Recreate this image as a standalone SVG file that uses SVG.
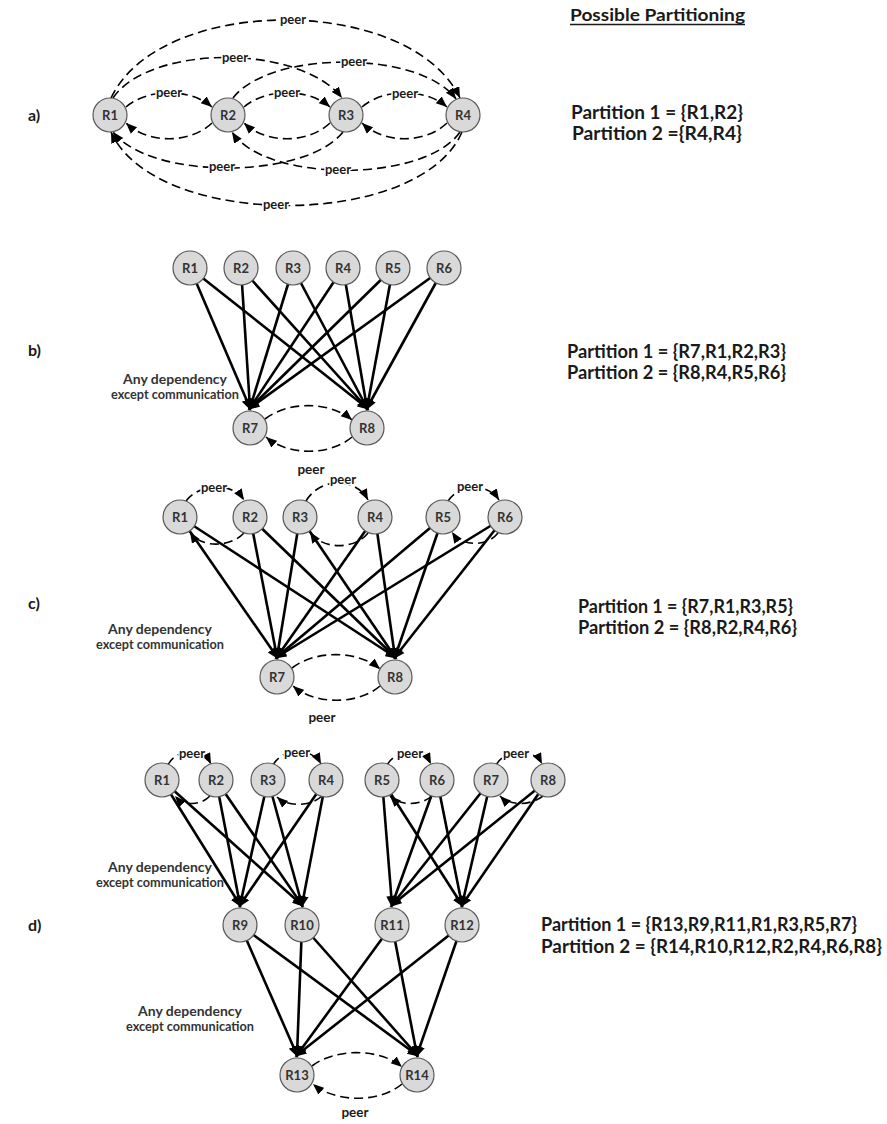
<svg xmlns="http://www.w3.org/2000/svg" width="887" height="1124" viewBox="0 0 887 1124">
<style>
text{font-family:Lato,"Liberation Sans",sans-serif;font-weight:bold;fill:#1a1a1a}
.nd circle{fill:#d9d9d9;stroke:#595959;stroke-width:1.2}
.nd text{font-size:13px;fill:#333;text-anchor:middle}
.sol{stroke:#000;stroke-width:2.6;fill:none;marker-end:url(#ah)}
.dsh{stroke:#000;stroke-width:1.6;fill:none;stroke-dasharray:9 5;marker-end:url(#ad)}
.pl{font-size:13px;text-anchor:middle;stroke:#fff;stroke-width:3;paint-order:stroke;stroke-linejoin:round}
.lb{font-size:16px}
.pt{font-size:19px}
.dep{font-size:13.5px;text-anchor:middle;fill:#333}
.pb{font-size:13.5px;text-anchor:middle}
</style>
<defs>
<marker id="ah" markerUnits="userSpaceOnUse" markerWidth="13" markerHeight="11" refX="9" refY="5" orient="auto"><path d="M0,0 L12,5 L0,10 z" fill="#000"/></marker>
<marker id="ad" markerUnits="userSpaceOnUse" markerWidth="12" markerHeight="10" refX="11" refY="4.5" orient="auto"><path d="M0,0 L11,4.5 L0,9 z" fill="#000"/></marker>
</defs>
<rect width="887" height="1124" fill="#fff"/>

<g id="headings">
<text x="570" y="21" font-size="17" textLength="175" lengthAdjust="spacingAndGlyphs">Possible Partitioning</text>
<line x1="570" y1="24.5" x2="745" y2="24.5" stroke="#1a1a1a" stroke-width="1.3"/>
<text class="lb" x="28" y="121">a)</text>
<text class="lb" x="28" y="356">b)</text>
<text class="lb" x="28" y="609">c)</text>
<text class="lb" x="28" y="931">d)</text>
<text class="pt" x="571" y="119" textLength="172" lengthAdjust="spacingAndGlyphs">Partition 1 = {R1,R2}</text>
<text class="pt" x="572" y="140" textLength="170" lengthAdjust="spacingAndGlyphs">Partition 2 ={R4,R4}</text>
<text class="pt" x="567" y="358" textLength="219" lengthAdjust="spacingAndGlyphs">Partition 1 = {R7,R1,R2,R3}</text>
<text class="pt" x="567" y="379" textLength="219" lengthAdjust="spacingAndGlyphs">Partition 2 = {R8,R4,R5,R6}</text>
<text class="pt" x="578" y="613" textLength="215" lengthAdjust="spacingAndGlyphs">Partition 1 = {R7,R1,R3,R5}</text>
<text class="pt" x="578" y="634" textLength="219" lengthAdjust="spacingAndGlyphs">Partition 2 = {R8,R2,R4,R6}</text>
<text class="pt" x="541" y="931" textLength="316" lengthAdjust="spacingAndGlyphs">Partition 1 = {R13,R9,R11,R1,R3,R5,R7}</text>
<text class="pt" x="541" y="953" textLength="341" lengthAdjust="spacingAndGlyphs">Partition 2 = {R14,R10,R12,R2,R4,R6,R8}</text>
<text class="dep" x="175" y="384" textLength="104" lengthAdjust="spacingAndGlyphs">Any dependency</text>
<text class="dep" x="175" y="399" textLength="128" lengthAdjust="spacingAndGlyphs">except communication</text>
<text class="dep" x="160" y="634" textLength="104" lengthAdjust="spacingAndGlyphs">Any dependency</text>
<text class="dep" x="160" y="649" textLength="128" lengthAdjust="spacingAndGlyphs">except communication</text>
<text class="dep" x="160" y="872" textLength="104" lengthAdjust="spacingAndGlyphs">Any dependency</text>
<text class="dep" x="160" y="887" textLength="128" lengthAdjust="spacingAndGlyphs">except communication</text>
<text class="dep" x="190" y="1016" textLength="104" lengthAdjust="spacingAndGlyphs">Any dependency</text>
<text class="dep" x="190" y="1031" textLength="128" lengthAdjust="spacingAndGlyphs">except communication</text>
<text class="pb" x="311" y="474">peer</text>
<text class="pb" x="322" y="722">peer</text>
<text class="pb" x="355" y="1117">peer</text>
</g>

<g id="connectors">
<!-- a -->
<path class="dsh" d="M126,107 C148,88 190,88 212,107"/>
<path class="dsh" d="M244,107 C266,88 308,88 330,107"/>
<path class="dsh" d="M362,107 C384,88 425,88 447,107"/>
<path class="dsh" d="M212,123 C190,144 148,144 126,123"/>
<path class="dsh" d="M330,123 C308,144 266,144 244,123"/>
<path class="dsh" d="M447,123 C425,144 384,144 362,123"/>
<path class="dsh" d="M113,98 C150,44 300,44 342,98"/>
<path class="dsh" d="M233,98 C270,50 420,50 456,99"/>
<path class="dsh" d="M111,98 C160,-6 410,-6 460,98"/>
<path class="dsh" d="M343,132 C305,180 150,180 113,132"/>
<path class="dsh" d="M460,132 C425,183 265,183 232,132"/>
<path class="dsh" d="M462,132 C420,230 155,230 111,132"/>
<!-- b -->
<path class="sol" d="M190,268 L250,408"/><path class="sol" d="M190,268 L367,408"/>
<path class="sol" d="M241,268 L250,408"/><path class="sol" d="M241,268 L367,408"/>
<path class="sol" d="M293,268 L250,408"/><path class="sol" d="M293,268 L367,408"/>
<path class="sol" d="M343,268 L250,408"/><path class="sol" d="M343,268 L367,408"/>
<path class="sol" d="M393,268 L250,408"/><path class="sol" d="M393,268 L367,408"/>
<path class="sol" d="M444,268 L250,408"/><path class="sol" d="M444,268 L367,408"/>
<path class="dsh" d="M265,419 C288,401 330,401 352,420"/>
<path class="dsh" d="M352,437 C330,456 288,456 266,437"/>
<!-- c -->
<path class="sol" d="M180,517 L277,657"/><path class="sol" d="M180,517 L395,657"/>
<path class="sol" d="M250,517 L277,657"/><path class="sol" d="M250,517 L395,657"/>
<path class="sol" d="M300,517 L277,657"/><path class="sol" d="M300,517 L395,657"/>
<path class="sol" d="M375,517 L277,657"/><path class="sol" d="M375,517 L395,657"/>
<path class="sol" d="M443,517 L277,657"/><path class="sol" d="M443,517 L395,657"/>
<path class="sol" d="M505,517 L277,657"/><path class="sol" d="M505,517 L395,657"/>
<path class="dsh" d="M186,501 C200,483 232,482 244,500"/>
<path class="dsh" d="M244,533 C230,548 200,548 190,532"/>
<path class="dsh" d="M306,501 C320,477 356,477 368,500"/>
<path class="dsh" d="M368,533 C355,550 322,550 310,532"/>
<path class="dsh" d="M448,501 C460,483 488,483 499,500"/>
<path class="dsh" d="M498,533 C487,547 462,547 452,532"/>
<path class="dsh" d="M292,668 C315,650 358,650 380,669"/>
<path class="dsh" d="M380,686 C358,705 315,705 293,686"/>
<!-- d -->
<path class="sol" d="M162,780 L240,905"/><path class="sol" d="M162,780 L302,905"/>
<path class="sol" d="M216,780 L240,905"/><path class="sol" d="M216,780 L302,905"/>
<path class="sol" d="M268,780 L240,905"/><path class="sol" d="M268,780 L302,905"/>
<path class="sol" d="M326,780 L240,905"/><path class="sol" d="M326,780 L302,905"/>
<path class="sol" d="M382,780 L392,905"/><path class="sol" d="M382,780 L462,905"/>
<path class="sol" d="M437,780 L392,905"/><path class="sol" d="M437,780 L462,905"/>
<path class="sol" d="M491,780 L392,905"/><path class="sol" d="M491,780 L462,905"/>
<path class="sol" d="M548,780 L392,905"/><path class="sol" d="M548,780 L462,905"/>
<path class="sol" d="M240,925 L297,1055"/><path class="sol" d="M240,925 L417,1055"/>
<path class="sol" d="M302,925 L297,1055"/><path class="sol" d="M302,925 L417,1055"/>
<path class="sol" d="M392,925 L297,1055"/><path class="sol" d="M392,925 L417,1055"/>
<path class="sol" d="M462,925 L297,1055"/><path class="sol" d="M462,925 L417,1055"/>
<path class="dsh" d="M168,765 C176,748 203,748 211,764"/>
<path class="dsh" d="M210,796 C200,806 184,806 175,796"/>
<path class="dsh" d="M273,765 C283,747 312,747 321,764"/>
<path class="dsh" d="M322,796 C310,807 288,807 277,797"/>
<path class="dsh" d="M387,765 C397,748 423,748 431,764"/>
<path class="dsh" d="M432,796 C420,806 400,806 390,796"/>
<path class="dsh" d="M496,765 C506,748 534,748 542,764"/>
<path class="dsh" d="M543,796 C530,806 510,806 500,796"/>
<path class="dsh" d="M312,1066 C335,1048 380,1048 402,1067"/>
<path class="dsh" d="M402,1084 C380,1103 335,1103 313,1084"/>
</g>

<g id="peer-labels">
<text class="pl" x="169" y="97">peer</text>
<text class="pl" x="287" y="97">peer</text>
<text class="pl" x="405" y="98">peer</text>
<text class="pl" x="235" y="62">peer</text>
<text class="pl" x="354" y="66">peer</text>
<text class="pl" x="293" y="24">peer</text>
<text class="pl" x="222" y="171">peer</text>
<text class="pl" x="338" y="174">peer</text>
<text class="pl" x="276" y="209">peer</text>
<text class="pl" x="214" y="492">peer</text>
<text class="pl" x="343" y="484">peer</text>
<text class="pl" x="470" y="491">peer</text>
<text class="pl" x="192" y="758">peer</text>
<text class="pl" x="297" y="757">peer</text>
<text class="pl" x="410" y="758">peer</text>
<text class="pl" x="516" y="758">peer</text>
</g>

<g id="a-R1" class="nd"><circle cx="110" cy="115" r="17"/><text x="110" y="119.5">R1</text></g>
<g id="a-R2" class="nd"><circle cx="228" cy="115" r="17"/><text x="228" y="119.5">R2</text></g>
<g id="a-R3" class="nd"><circle cx="346" cy="115" r="17"/><text x="346" y="119.5">R3</text></g>
<g id="a-R4" class="nd"><circle cx="463" cy="115" r="17"/><text x="463" y="119.5">R4</text></g>

<g id="b-R1" class="nd"><circle cx="190" cy="268" r="17"/><text x="190" y="272.5">R1</text></g>
<g id="b-R2" class="nd"><circle cx="241" cy="268" r="17"/><text x="241" y="272.5">R2</text></g>
<g id="b-R3" class="nd"><circle cx="293" cy="268" r="17"/><text x="293" y="272.5">R3</text></g>
<g id="b-R4" class="nd"><circle cx="343" cy="268" r="17"/><text x="343" y="272.5">R4</text></g>
<g id="b-R5" class="nd"><circle cx="393" cy="268" r="17"/><text x="393" y="272.5">R5</text></g>
<g id="b-R6" class="nd"><circle cx="444" cy="268" r="17"/><text x="444" y="272.5">R6</text></g>
<g id="b-R7" class="nd"><circle cx="250" cy="428" r="17"/><text x="250" y="432.5">R7</text></g>
<g id="b-R8" class="nd"><circle cx="367" cy="428" r="17"/><text x="367" y="432.5">R8</text></g>

<g id="c-R1" class="nd"><circle cx="180" cy="517" r="17"/><text x="180" y="521.5">R1</text></g>
<g id="c-R2" class="nd"><circle cx="250" cy="517" r="17"/><text x="250" y="521.5">R2</text></g>
<g id="c-R3" class="nd"><circle cx="300" cy="517" r="17"/><text x="300" y="521.5">R3</text></g>
<g id="c-R4" class="nd"><circle cx="375" cy="517" r="17"/><text x="375" y="521.5">R4</text></g>
<g id="c-R5" class="nd"><circle cx="443" cy="517" r="17"/><text x="443" y="521.5">R5</text></g>
<g id="c-R6" class="nd"><circle cx="505" cy="517" r="17"/><text x="505" y="521.5">R6</text></g>
<g id="c-R7" class="nd"><circle cx="277" cy="677" r="17"/><text x="277" y="681.5">R7</text></g>
<g id="c-R8" class="nd"><circle cx="395" cy="677" r="17"/><text x="395" y="681.5">R8</text></g>

<g id="d-R1" class="nd"><circle cx="162" cy="780" r="17"/><text x="162" y="784.5">R1</text></g>
<g id="d-R2" class="nd"><circle cx="216" cy="780" r="17"/><text x="216" y="784.5">R2</text></g>
<g id="d-R3" class="nd"><circle cx="268" cy="780" r="17"/><text x="268" y="784.5">R3</text></g>
<g id="d-R4" class="nd"><circle cx="326" cy="780" r="17"/><text x="326" y="784.5">R4</text></g>
<g id="d-R5" class="nd"><circle cx="382" cy="780" r="17"/><text x="382" y="784.5">R5</text></g>
<g id="d-R6" class="nd"><circle cx="437" cy="780" r="17"/><text x="437" y="784.5">R6</text></g>
<g id="d-R7" class="nd"><circle cx="491" cy="780" r="17"/><text x="491" y="784.5">R7</text></g>
<g id="d-R8" class="nd"><circle cx="548" cy="780" r="17"/><text x="548" y="784.5">R8</text></g>
<g id="d-R9" class="nd"><circle cx="240" cy="925" r="17"/><text x="240" y="929.5">R9</text></g>
<g id="d-R10" class="nd"><circle cx="302" cy="925" r="17"/><text x="302" y="929.5">R10</text></g>
<g id="d-R11" class="nd"><circle cx="392" cy="925" r="17"/><text x="392" y="929.5">R11</text></g>
<g id="d-R12" class="nd"><circle cx="462" cy="925" r="17"/><text x="462" y="929.5">R12</text></g>
<g id="d-R13" class="nd"><circle cx="297" cy="1075" r="17"/><text x="297" y="1079.5">R13</text></g>
<g id="d-R14" class="nd"><circle cx="417" cy="1075" r="17"/><text x="417" y="1079.5">R14</text></g>
</svg>
